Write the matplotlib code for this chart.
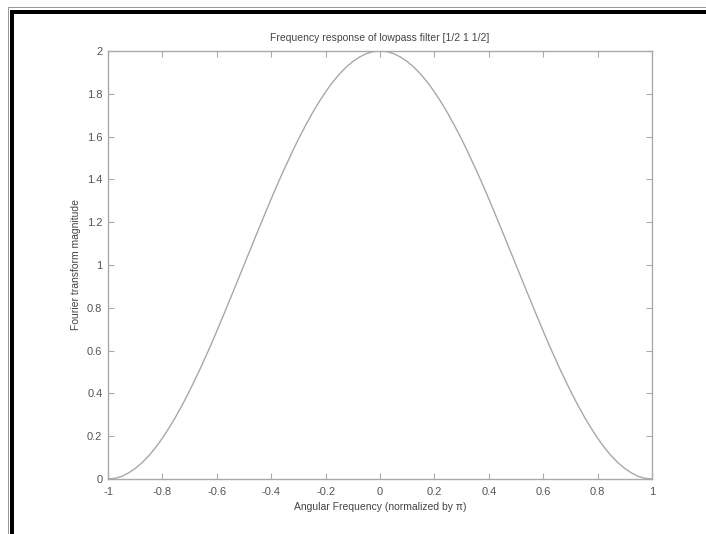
import numpy as np
import matplotlib
matplotlib.use("Agg")
import matplotlib.pyplot as plt
from matplotlib.patches import Rectangle

# Values (normalized frequency, magnitude)
freq = [-1.0, -0.975, -0.95, -0.925, -0.9, -0.875, -0.85, -0.825, -0.8, -0.775,
        -0.75, -0.725, -0.7, -0.675, -0.65, -0.625, -0.6, -0.575, -0.55, -0.525,
        -0.5, -0.475, -0.45, -0.425, -0.4, -0.375, -0.35, -0.325, -0.3, -0.275,
        -0.25, -0.225, -0.2, -0.175, -0.15, -0.125, -0.1, -0.075, -0.05, -0.025,
        0.0,
        0.025, 0.05, 0.075, 0.1, 0.125, 0.15, 0.175, 0.2, 0.225, 0.25,
        0.275, 0.3, 0.325, 0.35, 0.375, 0.4, 0.425, 0.45, 0.475, 0.5,
        0.525, 0.55, 0.575, 0.6, 0.625, 0.65, 0.675, 0.7, 0.725, 0.75,
        0.775, 0.8, 0.825, 0.85, 0.875, 0.9, 0.925, 0.95, 0.975, 1.0]
magnitude = [0.0, 0.003, 0.012, 0.028, 0.049, 0.076, 0.109, 0.147, 0.191, 0.240,
             0.293, 0.351, 0.412, 0.478, 0.546, 0.617, 0.691, 0.767, 0.844, 0.922,
             1.0, 1.078, 1.156, 1.233, 1.309, 1.383, 1.454, 1.522, 1.588, 1.649,
             1.707, 1.760, 1.809, 1.853, 1.891, 1.924, 1.951, 1.972, 1.988, 1.997,
             2.0,
             1.997, 1.988, 1.972, 1.951, 1.924, 1.891, 1.853, 1.809, 1.760, 1.707,
             1.649, 1.588, 1.522, 1.454, 1.383, 1.309, 1.233, 1.156, 1.078, 1.0,
             0.922, 0.844, 0.767, 0.691, 0.617, 0.546, 0.478, 0.412, 0.351, 0.293,
             0.240, 0.191, 0.147, 0.109, 0.076, 0.049, 0.028, 0.012, 0.003, 0.0]
x_ticks = [-1, -0.8, -0.6, -0.4, -0.2, 0, 0.2, 0.4, 0.6, 0.8, 1]
x_tick_labels = ["-1", "-0.8", "-0.6", "-0.4", "-0.2", "0", "0.2", "0.4", "0.6", "0.8", "1"]
y_ticks = [0, 0.2, 0.4, 0.6, 0.8, 1, 1.2, 1.4, 1.6, 1.8, 2]
y_tick_labels = ["0", "0.2", "0.4", "0.6", "0.8", "1", "1.2", "1.4", "1.6", "1.8", "2"]

plt.rcParams['font.family'] = ['Liberation Sans', 'DejaVu Sans']

W, H = 706, 534
fig = plt.figure(figsize=(W / 100, H / 100), dpi=100)
fig.patch.set_facecolor("white")

left, right, top, bottom = 108, 652, 51, 479
ax = fig.add_axes([left / W, 1 - bottom / H, (right - left) / W, (bottom - top) / H])

ax.plot(freq, magnitude, color="#a8a8a8", linewidth=1.0, antialiased=True)
ax.set_xlim(-1, 1)
ax.set_ylim(0, 2)
ax.set_xticks(x_ticks)
ax.set_xticklabels(x_tick_labels)
ax.set_yticks(y_ticks)
ax.set_yticklabels(y_tick_labels)
ax.tick_params(direction="in", top=True, right=True, length=4, width=0.8,
               colors="#aaaaaa", labelcolor="#555555", labelsize=8)
ax.tick_params(axis="x", pad=6)
ax.tick_params(axis="y", pad=4)
for s in ax.spines.values():
    s.set_color("#aaaaaa")
    s.set_linewidth(1.0)

ax.set_title("Frequency response of lowpass filter [1/2 1 1/2]", fontsize=7.5,
             color="#444444", pad=7)
ax.set_xlabel("Angular Frequency (normalized by π)", fontsize=7.5, color="#444444", labelpad=3)
ax.set_ylabel("Fourier transform magnitude", fontsize=7.5, color="#444444", labelpad=4)

# page border (top and left), in pixel units
def rect(x0, y0, w, h, c):
    fig.add_artist(Rectangle((x0 / W, 1 - (y0 + h) / H), w / W, h / H, facecolor=c,
                             edgecolor="none", transform=fig.transFigure))

rect(8, 7, W - 8, 1.2, "#999999")
rect(8, 7, 1.2, H - 7, "#999999")
rect(10, 10, W - 10, 4, "#000000")
rect(10, 10, 4, H - 10, "#000000")

fig.savefig("out.png", dpi=100, facecolor="white")
